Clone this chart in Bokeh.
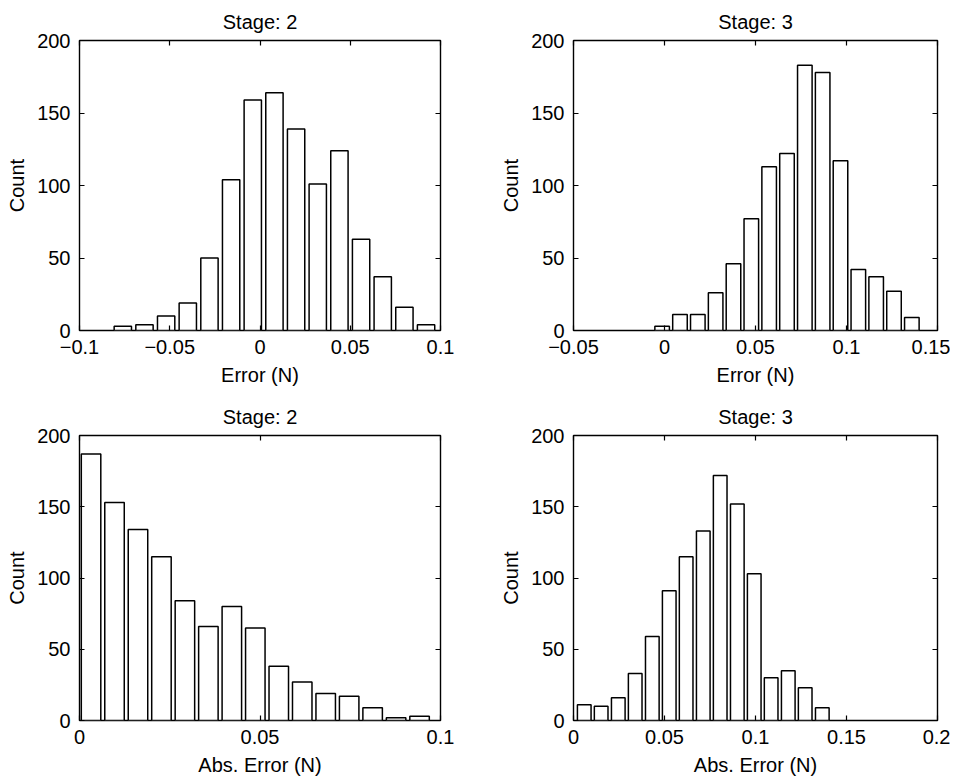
from bokeh.plotting import figure
from bokeh.models import Range1d, LinearAxis, FixedTicker, ColumnDataSource
from bokeh.layouts import column, row
from bokeh.embed import file_html
from bokeh.resources import INLINE

FONT = "Liberation Sans"

# ---- data (bin centres and counts) ----
err2_centers = [-0.076, -0.064, -0.052, -0.040, -0.028, -0.016, -0.004, 0.008,
                0.020, 0.032, 0.044, 0.056, 0.068, 0.080, 0.092]
err2_counts = [3, 4, 10, 19, 50, 104, 159, 164, 139, 101, 124, 63, 37, 16, 4]
err2_width = 0.0096

err3_centers = [-0.0013, 0.0085, 0.0183, 0.0281, 0.0379, 0.0477, 0.0575, 0.0673,
                0.0771, 0.0869, 0.0967, 0.1065, 0.1163, 0.1261, 0.1359]
err3_counts = [3, 11, 11, 26, 46, 77, 113, 122, 183, 178, 117, 42, 37, 27, 9]
err3_width = 0.0080

abs2_centers = [0.0032, 0.0097, 0.0162, 0.0227, 0.0292, 0.0357, 0.0422, 0.0487,
                0.0552, 0.0617, 0.0682, 0.0747, 0.0812, 0.0877, 0.0942]
abs2_counts = [187, 153, 134, 115, 84, 66, 80, 65, 38, 27, 19, 17, 9, 2, 3]
abs2_width = 0.0054

abs3_centers = [0.0059, 0.0152, 0.0246, 0.0339, 0.0433, 0.0526, 0.0619, 0.0713,
                0.0806, 0.0900, 0.0993, 0.1086, 0.1180, 0.1273, 0.1367]
abs3_counts = [11, 10, 16, 33, 59, 91, 115, 133, 172, 152, 103, 30, 35, 23, 9]
abs3_width = 0.0075

y_ticks = [0, 50, 100, 150, 200]

FS = "20px"


def fmt(v):
    s = ("%g" % v)
    return s.replace("-", "\u2212")


def make(title, xlabel, xr, xticks, centers, counts, width,
         left, right, top, bottom, fw, fh):
    p = figure(width=None, height=None, frame_width=fw, frame_height=fh,
               x_range=Range1d(*xr), y_range=Range1d(0, 200),
               output_backend="svg", toolbar_location=None,
               min_border_left=left, min_border_right=right,
               min_border_top=top, min_border_bottom=bottom,
               title=title)
    p.title.align = "center"
    p.title.text_font = FONT
    p.title.text_font_size = FS
    p.title.text_font_style = "normal"
    p.title.text_color = "black"
    p.title.standoff = 16
    p.xgrid.visible = False
    p.ygrid.visible = False
    p.outline_line_color = "black"
    p.outline_line_width = 1.4
    p.background_fill_color = "white"
    p.border_fill_color = "white"

    src = ColumnDataSource(dict(x=centers, top=counts))
    p.vbar(x="x", top="top", width=width, bottom=0, source=src,
           fill_color="white", line_color="black", line_width=1.5)

    xt = FixedTicker(ticks=xticks)
    yt = FixedTicker(ticks=y_ticks)
    overrides = {t: fmt(t) for t in xticks}

    for ax in p.xaxis:
        ax.ticker = xt
        ax.major_label_overrides = overrides
    for ax in p.yaxis:
        ax.ticker = yt

    for ax in list(p.xaxis) + list(p.yaxis):
        ax.major_tick_in = 5
        ax.major_tick_out = 0
        ax.minor_tick_line_color = None
        ax.axis_line_color = None
        ax.major_tick_line_color = "black"
        ax.major_tick_line_width = 1.2
        ax.major_label_text_font = FONT
        ax.major_label_text_font_size = FS
        ax.major_label_text_color = "black"
        ax.axis_label_text_font = FONT
        ax.axis_label_text_font_size = FS
        ax.axis_label_text_font_style = "normal"
        ax.axis_label_text_color = "black"
    p.xaxis.axis_label = xlabel
    p.xaxis.major_label_standoff = 9
    p.xaxis.axis_label_standoff = 7
    p.yaxis.axis_label = "Count"
    p.yaxis.major_label_standoff = 9
    p.yaxis.axis_label_standoff = 6

    # mirrored inward ticks on top and right (no labels)
    for loc, tk in (("above", xt), ("right", yt)):
        ax = LinearAxis(ticker=tk)
        ax.major_tick_in = 5
        ax.major_tick_out = 0
        ax.minor_tick_line_color = None
        ax.axis_line_color = None
        ax.major_tick_line_color = "black"
        ax.major_tick_line_width = 1.2
        ax.major_label_overrides = {t: "" for t in tk.ticks}
        ax.major_label_text_color = None
        ax.major_label_text_font_size = "1px"
        ax.major_label_standoff = 0
        p.add_layout(ax, loc)
    return p


p1 = make("Stage: 2", "Error (N)", (-0.1, 0.1), [-0.1, -0.05, 0, 0.05, 0.1],
          err2_centers, err2_counts, err2_width, 79, 36, 35, 60, 361, 290)
p2 = make("Stage: 3", "Error (N)", (-0.05, 0.15), [-0.05, 0, 0.05, 0.1, 0.15],
          err3_centers, err3_counts, err3_width, 97, 13, 35, 60, 364, 290)
p3 = make("Stage: 2", "Abs. Error (N)", (0, 0.1), [0, 0.05, 0.1],
          abs2_centers, abs2_counts, abs2_width, 79, 36, 45, 55, 361, 285)
p4 = make("Stage: 3", "Abs. Error (N)", (0, 0.2), [0, 0.05, 0.1, 0.15, 0.2],
          abs3_centers, abs3_counts, abs3_width, 97, 13, 45, 55, 364, 285)

layout = column(row(p1, p2, spacing=0), row(p3, p4, spacing=0), spacing=0)

open("out.html", "w").write(file_html(layout, INLINE))
